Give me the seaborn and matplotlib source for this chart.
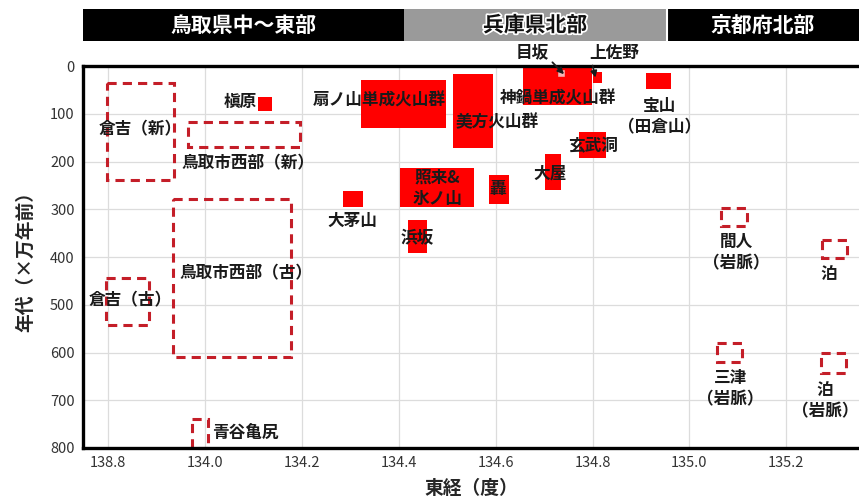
import matplotlib.pyplot as plt
import matplotlib.patheffects as pe
import seaborn as sns

# filled boxes: longitude span (deg) x age span (x10^4 years ago)
solid_names = ['槇原', '扇ノ山単成火山群', '美方火山群', '照来&氷ノ山', '轟', '大茅山', '浜坂',
               '神鍋単成火山群', '上佐野', '宝山（田倉山）', '玄武洞', '大屋']
solid_lon0 = [134.110, 134.322, 134.511, 134.402, 134.586, 134.285, 134.419,
              134.656, 134.800, 134.911, 134.773, 134.701]
solid_lon1 = [134.138, 134.497, 134.594, 134.555, 134.627, 134.326, 134.458,
              134.798, 134.819, 134.961, 134.827, 134.734]
solid_age0 = [65, 29, 17, 214, 228, 262, 322, 4, 13, 15, 138, 184]
solid_age1 = [94, 130, 172, 295, 289, 295, 392, 82, 36, 48, 193, 260]

# small highlighted box inside 神鍋
mesaka_lon = [134.726, 134.744]
mesaka_age = [6, 23]

# dashed boxes
dashed_names = ['倉吉（新）', '鳥取市西部（新）', '鳥取市西部（古）', '倉吉（古）', '青谷亀尻',
                '間人（岩脈）', '泊', '三津（岩脈）', '泊（岩脈）']
dashed_lon0 = [133.798, 133.965, 133.934, 133.796, 133.973, 135.066, 135.274, 135.056, 135.272]
dashed_lon1 = [133.936, 134.196, 134.177, 133.885, 134.006, 135.118, 135.326, 135.109, 135.324]
dashed_age0 = [36, 117, 279, 444, 740, 297, 364, 580, 601]
dashed_age1 = [239, 170, 609, 542, 800, 335, 402, 620, 643]

# regions across the top
region_names = ['鳥取県中～東部', '兵庫県北部', '京都府北部']
region_edges = [133.748, 134.410, 134.953, 135.350]
region_colors = ['black', '#9a9a9a', 'black']

x_ticks = [133.8, 134.0, 134.2, 134.4, 134.6, 134.8, 135.0, 135.2]
x_ticklabels = ['138.8', '134.0', '134.2', '134.4', '134.6', '134.8', '135.0', '135.2']
y_ticks = [0, 100, 200, 300, 400, 500, 600, 700, 800]

# label text and where it sits (lon, age, horizontal alignment)
labels = [
    ('倉吉（新）', 133.866, 133, 'center'),
    ('槇原', 134.107, 76, 'right'),
    ('扇ノ山単成火山群', 134.359, 73, 'center'),
    ('鳥取市西部（新）', 134.089, 203, 'center'),
    ('美方火山群', 134.602, 117, 'center'),
    ('神鍋単成火山群', 134.728, 67, 'center'),
    ('宝山\n（田倉山）', 134.938, 106, 'center'),
    ('玄武洞', 134.800, 167, 'center'),
    ('大屋', 134.713, 226, 'center'),
    ('照来&\n氷ノ山', 134.480, 256, 'center'),
    ('轟', 134.604, 258, 'center'),
    ('大茅山', 134.305, 325, 'center'),
    ('浜坂', 134.437, 360, 'center'),
    ('鳥取市西部（古）', 134.085, 434, 'center'),
    ('倉吉（古）', 133.845, 490, 'center'),
    ('青谷亀尻', 134.014, 769, 'left'),
    ('間人\n（岩脈）', 135.097, 390, 'center'),
    ('泊', 135.287, 436, 'center'),
    ('三津\n（岩脈）', 135.085, 675, 'center'),
    ('泊\n（岩脈）', 135.280, 700, 'center'),
]

sns.set_theme(style='whitegrid')
plt.rcParams['font.family'] = ['Noto Sans CJK JP', 'DejaVu Sans']

fig = plt.figure(figsize=(8.59, 5.01), dpi=100)
ax = fig.add_axes([0.0966, 0.1058, 0.9034, 0.7622])
hdr = fig.add_axes([0.0966, 0.918, 0.9034, 0.064], sharex=ax)

red = '#ff0000'
dash_red = '#c41e28'
txt = '#1a1a1a'

ax.bar(solid_lon0, [b - a for a, b in zip(solid_age0, solid_age1)],
       width=[b - a for a, b in zip(solid_lon0, solid_lon1)], bottom=solid_age0,
       align='edge', color=red, linewidth=0, zorder=2)
ax.bar(mesaka_lon[0], mesaka_age[1] - mesaka_age[0], width=mesaka_lon[1] - mesaka_lon[0],
       bottom=mesaka_age[0], align='edge', color='#f6b3b3', edgecolor=red, linewidth=1, zorder=3)
ax.bar(dashed_lon0, [b - a for a, b in zip(dashed_age0, dashed_age1)],
       width=[b - a for a, b in zip(dashed_lon0, dashed_lon1)], bottom=dashed_age0,
       align='edge', fill=False, edgecolor=dash_red, linewidth=2.2,
       linestyle=(0, (3, 2)), zorder=2, clip_on=False)

for text, lon, age, ha in labels:
    ax.text(lon, age, text, ha=ha, va='center', fontsize=12, fontweight='bold',
            color=txt, linespacing=1.25, zorder=4)

ax.annotate('目坂', xy=(134.741, 17), xytext=(134.676, -30), ha='center', va='center',
            fontsize=12, fontweight='bold', color=txt, annotation_clip=False, zorder=6,
            arrowprops=dict(arrowstyle='-|>', color=txt, lw=1.3, mutation_scale=9,
                            relpos=(0.95, 0.2), shrinkA=0, shrinkB=0))
ax.annotate('上佐野', xy=(134.806, 24), xytext=(134.845, -27), ha='center', va='center',
            fontsize=12, fontweight='bold', color=txt, annotation_clip=False, zorder=6,
            arrowprops=dict(arrowstyle='-|>', color=txt, lw=1.3, mutation_scale=9,
                            relpos=(0.03, 0.2), shrinkA=0, shrinkB=0))

ax.set_xlim(region_edges[0], region_edges[-1])
ax.set_ylim(800, 0)
ax.set_xticks(x_ticks)
ax.set_xticklabels(x_ticklabels)
ax.set_yticks(y_ticks)
ax.tick_params(axis='both', labelsize=10.5, labelcolor='#333333', length=0, pad=6)
ax.grid(True, color='#dcdcdc', linewidth=0.9)
ax.set_facecolor('white')
for side in ['left', 'bottom', 'top']:
    ax.spines[side].set_color('black')
    ax.spines[side].set_linewidth(2.4)
ax.spines['right'].set_visible(False)
ax.set_xlabel('東経（度）', fontsize=13.5, fontweight='bold', labelpad=6)
ax.set_ylabel('年代（×万年前）', fontsize=13.5, fontweight='bold', labelpad=11)

for name, x0, x1, c in zip(region_names, region_edges[:-1], region_edges[1:], region_colors):
    hdr.axvspan(x0, x1, color=c, linewidth=0)
    if c == 'black':
        hdr.text((x0 + x1) / 2, 0.5, name, ha='center', va='center', color='white',
                 fontsize=15, fontweight='bold')
    else:
        hdr.text((x0 + x1) / 2, 0.5, name, ha='center', va='center', color='#111111',
                 fontsize=15, fontweight='bold',
                 path_effects=[pe.withStroke(linewidth=2.5, foreground='white')])
hdr.axvline(region_edges[2], color='white', linewidth=1.5)
hdr.set_ylim(0, 1)
hdr.axis('off')

fig.savefig('out.png', dpi=100)
